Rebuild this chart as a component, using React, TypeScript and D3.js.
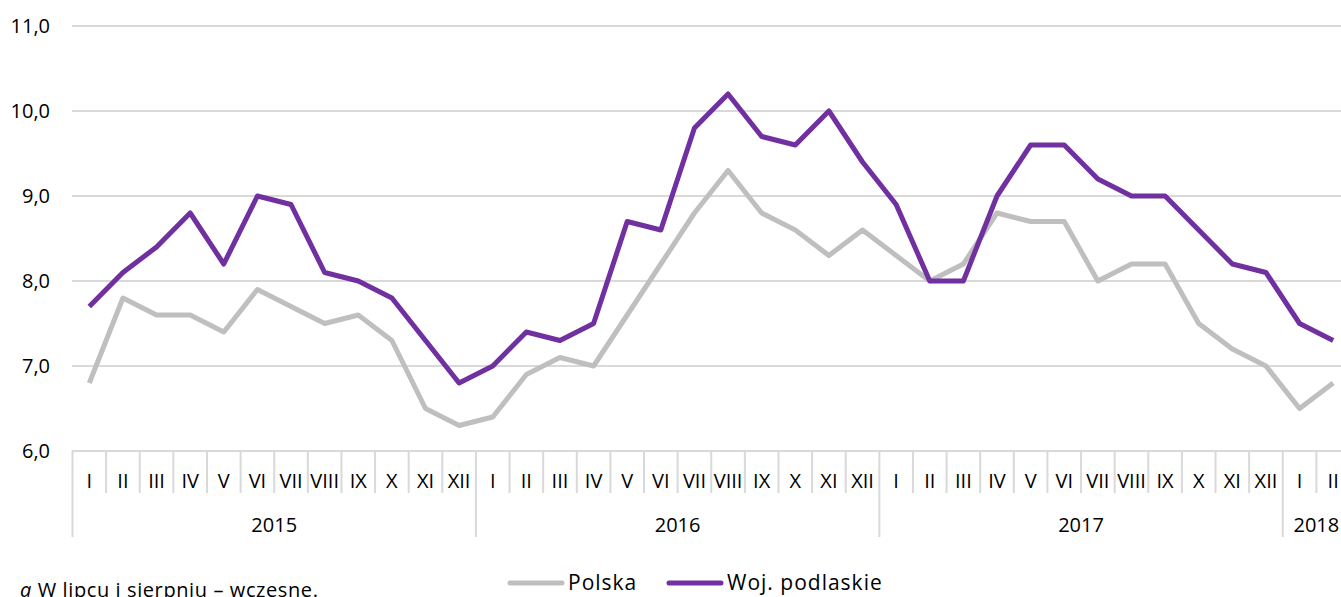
import React from "react";
import * as d3 from "d3";

const years = ["2015", "2016", "2017", "2018"];
const monthsPerYear = [12, 12, 12, 2];
const monthLabels = ["I", "II", "III", "IV", "V", "VI", "VII", "VIII", "IX", "X", "XI", "XII"];
const yTicks = [6, 7, 8, 9, 10, 11];

const polska = [
  6.8, 7.8, 7.6, 7.6, 7.4, 7.9, 7.7, 7.5, 7.6, 7.3, 6.5, 6.3,
  6.4, 6.9, 7.1, 7.0, 7.6, 8.2, 8.8, 9.3, 8.8, 8.6, 8.3, 8.6,
  8.3, 8.0, 8.2, 8.8, 8.7, 8.7, 8.0, 8.2, 8.2, 7.5, 7.2, 7.0,
  6.5, 6.8,
];
const podlaskie = [
  7.7, 8.1, 8.4, 8.8, 8.2, 9.0, 8.9, 8.1, 8.0, 7.8, 7.3, 6.8,
  7.0, 7.4, 7.3, 7.5, 8.7, 8.6, 9.8, 10.2, 9.7, 9.6, 10.0, 9.4,
  8.9, 8.0, 8.0, 9.0, 9.6, 9.6, 9.2, 9.0, 9.0, 8.6, 8.2, 8.1,
  7.5, 7.3,
];
const seriesNames = ["Polska", "Woj. podlaskie"];
const footnote = "W lipcu i sierpniu – wczesne.";

const W = 1341;
const H = 597;
const FONT = "'Open Sans', 'Noto Sans', sans-serif";
const GREY = "#BFBFBF";
const PURPLE = "#7030A0";
const GRID = "#D9D9D9";

export default function App() {
  const cats: { label: string; yearIdx: number }[] = [];
  years.forEach((y, yi) => {
    for (let m = 0; m < monthsPerYear[yi]; m++) cats.push({ label: monthLabels[m], yearIdx: yi });
  });
  const n = cats.length;
  const x = d3.scaleBand<number>().domain(d3.range(n)).range([72.5, 1350]).padding(0);
  const y = d3.scaleLinear().domain([6, 11]).range([451, 26]);
  const cx = (i: number) => (x(i) as number) + x.bandwidth() / 2;
  const line = d3
    .line<number>()
    .x((_, i) => cx(i))
    .y((d) => y(d));

  const axisY = y(6);
  const monthBottom = 493;
  const yearBottom = 537;

  const yearStarts: number[] = [];
  let acc = 0;
  monthsPerYear.forEach((c) => {
    yearStarts.push(acc);
    acc += c;
  });

  return (
    <svg
      width={W}
      height={H}
      style={{ position: "absolute", left: 0, top: 0, background: "#fff" }}
      fontFamily={FONT}
    >
      {yTicks.map((t) => (
        <line key={t} x1={72} x2={W} y1={y(t)} y2={y(t)} stroke={GRID} strokeWidth={2} />
      ))}
      {yTicks.map((t) => (
        <text key={"l" + t} x={50} y={y(t)} dy="0.35em" textAnchor="end" fontSize={20} fill="#000">
          {d3.format(".1f")(t).replace(".", ",")}
        </text>
      ))}
      {d3.range(n + 1).map((i) => {
        const xx = i < n ? (x(i) as number) : 1350;
        const isYear = yearStarts.includes(i) || i === n;
        return (
          <line
            key={"s" + i}
            x1={xx}
            x2={xx}
            y1={axisY}
            y2={isYear ? yearBottom : monthBottom}
            stroke={GRID}
            strokeWidth={2}
          />
        );
      })}
      {cats.map((c, i) => (
        <text key={"m" + i} x={cx(i)} y={481} dy="0.35em" textAnchor="middle" fontSize={20} fill="#000">
          {c.label}
        </text>
      ))}
      {years.map((yr, yi) => {
        const s = yearStarts[yi];
        const e = s + monthsPerYear[yi] - 1;
        const mid = ((x(s) as number) + (x(e) as number) + x.bandwidth()) / 2;
        return (
          <text key={yr} x={mid} y={525} dy="0.35em" textAnchor="middle" fontSize={20} fill="#000">
            {yr}
          </text>
        );
      })}
      <path d={line(polska) || ""} fill="none" stroke={GREY} strokeWidth={5} strokeLinejoin="round" />
      <path d={line(podlaskie) || ""} fill="none" stroke={PURPLE} strokeWidth={5} strokeLinejoin="round" />
      <line x1={510} x2={562} y1={583} y2={583} stroke={GREY} strokeWidth={5} strokeLinecap="round" />
      <text x={568} y={583} dy="0.35em" fontSize={21} letterSpacing={1} fill="#000">{seriesNames[0]}</text>
      <line x1={669} x2={721} y1={583} y2={583} stroke={PURPLE} strokeWidth={5} strokeLinecap="round" />
      <text x={727} y={583} dy="0.35em" fontSize={21} letterSpacing={1} fill="#000">{seriesNames[1]}</text>
      <text x={20} y={597} fontSize={20} letterSpacing={0.6} fill="#000">
        <tspan fontStyle="italic">a</tspan> {footnote}
      </text>
    </svg>
  );
}
